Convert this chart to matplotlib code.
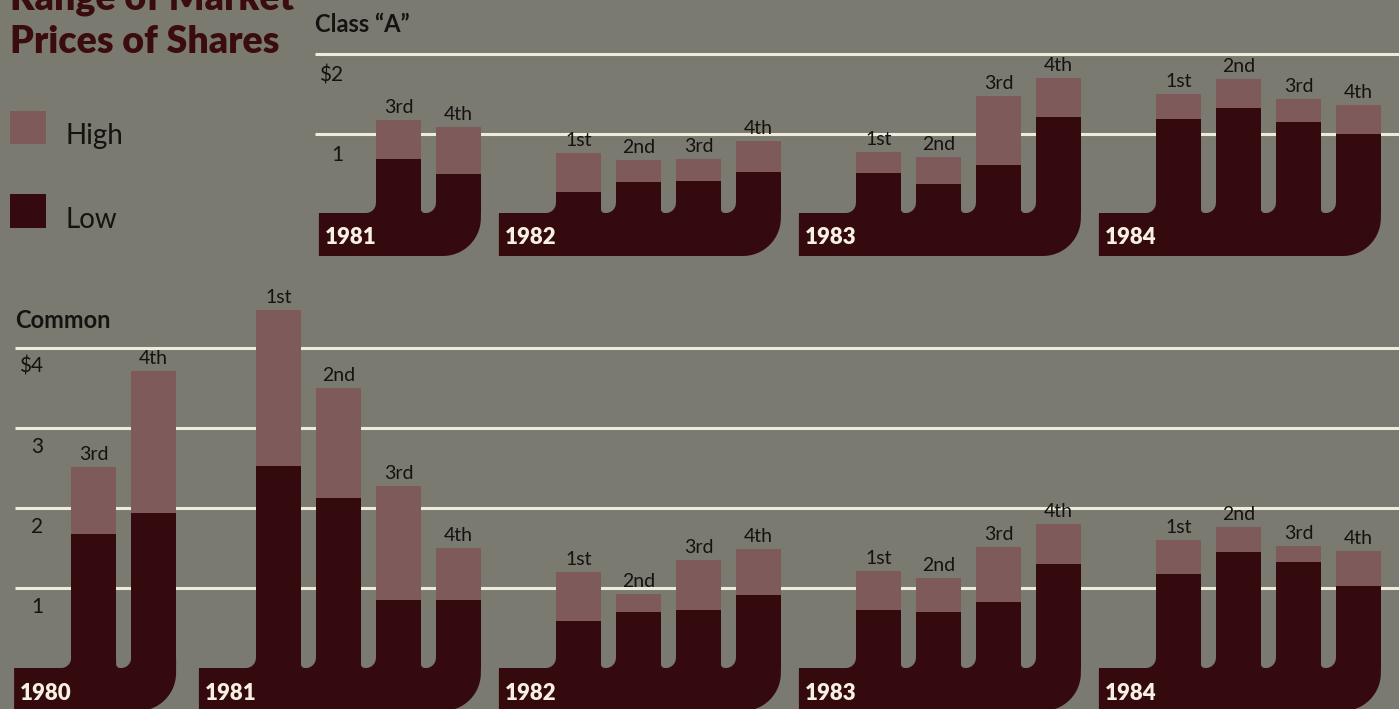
import numpy as np
import matplotlib
matplotlib.use("Agg")
import matplotlib.pyplot as plt
from matplotlib.patches import Polygon, Rectangle

plt.rcParams["font.family"] = ["Lato", "DejaVu Sans"]

# quarterly share prices, dollars
quarter_names = ["1st", "2nd", "3rd", "4th"]

class_a_years = [1981, 1982, 1983, 1984]
class_a_quarters = [[3, 4], [1, 2, 3, 4], [1, 2, 3, 4], [1, 2, 3, 4]]
class_a_low = [[0.68, 0.49], [0.27, 0.39, 0.40, 0.52],
               [0.50, 0.37, 0.61, 1.21], [1.18, 1.33, 1.15, 1.00]]
class_a_high = [[1.17, 1.09], [0.76, 0.67, 0.68, 0.91],
                [0.77, 0.70, 1.48, 1.70], [1.50, 1.69, 1.44, 1.36]]

common_years = [1980, 1981, 1982, 1983, 1984]
common_quarters = [[3, 4], [1, 2, 3, 4], [1, 2, 3, 4], [1, 2, 3, 4], [1, 2, 3, 4]]
common_low = [[1.67, 1.94], [2.53, 2.12, 0.85, 0.85], [0.59, 0.70, 0.73, 0.91],
              [0.72, 0.70, 0.82, 1.30], [1.17, 1.45, 1.33, 1.03]]
common_high = [[2.51, 3.71], [4.47, 3.50, 2.28, 1.50], [1.20, 0.92, 1.35, 1.49],
               [1.21, 1.12, 1.51, 1.80], [1.60, 1.76, 1.53, 1.46]]

BG = "#7b7a70"
DARK = "#350a0f"
MAUVE = "#7f5a5b"
LINE = "#efebdc"
INK = "#15120f"
CREAM = "#f6f1e3"
TITLE = "#3a0b0f"

W, H = 1399, 709
PX = 60.0          # pixels per quarter slot
BAR_W = 45 / PX


def arc(cx, cy, rx, ry, t0, t1, n=16):
    t = np.radians(np.linspace(t0, t1, n))
    return list(zip(cx + rx * np.cos(t), cy + ry * np.sin(t)))


def draw_group(ax, centers, lows, highs, quarters, year, ypx, base_px=43):
    # pipe-shaped base that the bars grow out of
    rlx, rly = 10 / PX, 10 / ypx
    rrx, rry = 4 / PX, 4 / ypx
    Rx, Ry = 38 / PX, 38 / ypx
    bottom = -base_px / ypx
    left = centers[0] - BAR_W / 2 - 57 / PX
    pts = [(left, bottom), (left, 0)]
    for i, c in enumerate(centers):
        xl, xr = c - BAR_W / 2, c + BAR_W / 2
        pts += arc(xl - rlx, rly, rlx, rly, -90, 0)
        if i == len(centers) - 1:
            pts += [(xr, rly), (xr, bottom + Ry)]
            pts += arc(xr - Rx, bottom + Ry, Rx, Ry, 0, -90)
        else:
            pts += [(xr, rly)]
            pts += arc(xr + rrx, rry, rrx, rry, 180, 270)
    pts += [(left, bottom)]
    ax.add_patch(Polygon(pts, closed=True, fc=DARK, ec="none", zorder=2))

    lows = np.array(lows)
    highs = np.array(highs)
    ax.bar(centers, lows, width=BAR_W, color=DARK, linewidth=0, zorder=2)
    ax.bar(centers, highs - lows, bottom=lows, width=BAR_W, color=MAUVE,
           linewidth=0, zorder=2)
    for c, h, q in zip(centers, highs, quarters):
        ax.text(c, h + 4 / ypx, quarter_names[q - 1], ha="center", va="bottom",
                fontsize=14, color=INK, zorder=3)
    ax.text(left + 6 / PX, -25 / ypx, str(year), ha="left", va="center",
            fontsize=16, fontweight="heavy", color=CREAM, zorder=3)


def slot_centers(year, quarters):
    g = year - 1980
    x0 = 4.64 if g > 0 else 4.56
    return [x0 + 5 * (g - 1) + (q - 1) for q in quarters]


fig = plt.figure(figsize=(W / 100, H / 100), dpi=100, facecolor=BG)

# Class "A" panel: zero line at 213 px from the top, 79.3 px per dollar
a_zero, a_scale = 213, 79.3
ax_a = fig.add_axes([0, 0, 1, 1])
ax_a.set_xlim(0, W / PX)
ax_a.set_ylim(-(H - a_zero) / a_scale, a_zero / a_scale)
ax_a.axis("off")

# Common panel: zero line at 668 px, 80 px per dollar
c_zero, c_scale = 668, 80.0
ax_c = fig.add_axes([0, 0, 1, 1])
ax_c.set_xlim(0, W / PX)
ax_c.set_ylim(-(H - c_zero) / c_scale, c_zero / c_scale)
ax_c.axis("off")

for v in [1, 2]:
    ax_a.plot([315 / PX, W / PX], [v, v], color=LINE, lw=2.2, zorder=1,
              solid_capstyle="butt")
    lab = "$%d" % v if v == 2 else str(v)
    ax_a.text(343 / PX, v - 21 / a_scale, lab, ha="right", va="center",
              fontsize=15, color=INK)

for v in [1, 2, 3, 4]:
    ax_c.plot([15 / PX, W / PX], [v, v], color=LINE, lw=2.2, zorder=1,
              solid_capstyle="butt")
    lab = "$%d" % v if v == 4 else str(v)
    ax_c.text(43 / PX, v - 19 / c_scale, lab, ha="right", va="center",
              fontsize=15, color=INK)

for yr, qs, lo, hi in zip(class_a_years, class_a_quarters, class_a_low, class_a_high):
    draw_group(ax_a, slot_centers(yr, qs), lo, hi, qs, yr, a_scale)

for yr, qs, lo, hi in zip(common_years, common_quarters, common_low, common_high):
    draw_group(ax_c, slot_centers(yr, qs), lo, hi, qs, yr, c_scale)

# headings and key
fig.text(10 / W, 1 - 9 / H, "Range of Market", ha="left", va="baseline",
         fontsize=27, fontweight="heavy", color=TITLE)
fig.text(10 / W, 1 - 53 / H, "Prices of Shares", ha="left", va="baseline",
         fontsize=27, fontweight="heavy", color=TITLE)
fig.text(315 / W, 1 - 24 / H, "Class \u201cA\u201d", ha="left", va="center",
         fontsize=17, fontweight="bold", color=INK)
fig.text(15 / W, 1 - 321 / H, "Common", ha="left", va="center",
         fontsize=17, fontweight="bold", color=INK)

fig.patches.append(Rectangle((10 / W, 1 - 144 / H), 36 / W, 33 / H,
                             transform=fig.transFigure, fc=MAUVE, ec="none"))
fig.patches.append(Rectangle((10 / W, 1 - 228 / H), 36 / W, 34 / H,
                             transform=fig.transFigure, fc=DARK, ec="none"))
fig.text(65 / W, 1 - 136 / H, "High", ha="left", va="center", fontsize=20, color=INK)
fig.text(65 / W, 1 - 220 / H, "Low", ha="left", va="center", fontsize=20, color=INK)

fig.savefig("out.png", dpi=100, facecolor=BG)
